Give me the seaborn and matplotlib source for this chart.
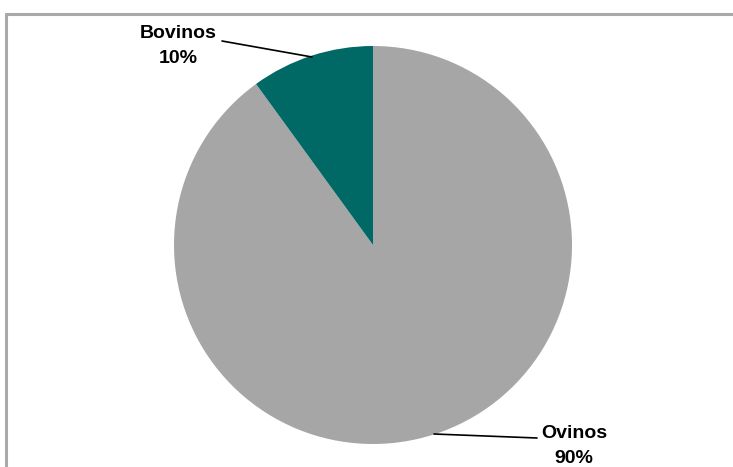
import matplotlib
matplotlib.use("Agg")
import matplotlib.pyplot as plt
import seaborn as sns

# ---------------- DATA ----------------
categories = ["Ovinos", "Bovinos"]
shares = [90, 10]
slice_colors = ["#a6a6a6", "#006865"]

sns.set_theme(style="white")
plt.rcParams['font.family'] = ['Liberation Sans', 'DejaVu Sans']

fig = plt.figure(figsize=(7.33, 4.67), dpi=100)
ax = fig.add_axes([0, 0, 1, 1])

# pie in pixel-like coordinates (y up)
ax.pie(shares, colors=slice_colors, startangle=90, counterclock=False,
       center=(373, 222), radius=199, wedgeprops={'linewidth': 0})
ax.set_xlim(0, 733)
ax.set_ylim(0, 467)
ax.set_aspect('auto')
ax.axis('off')

# frame lines (top and left only, like the original)
ax.plot([5.5, 733], [453.5, 453.5], color="#a9a9a9", lw=2.2, clip_on=False)
ax.plot([5.5, 5.5], [0, 453.5], color="#a9a9a9", lw=2.2, clip_on=False)

# labels with leader lines
labels = [f"{c}\n{s}%" for c, s in zip(categories, shares)]
ax.plot([434, 537], [467 - 434, 467 - 438], color="black", lw=1.2)
ax.text(574, 467 - 446, labels[0], ha="center", va="center", color="black",
        fontsize=14, fontweight="bold", linespacing=1.6)
ax.plot([222, 312], [467 - 41, 467 - 57], color="black", lw=1.2)
ax.text(178, 467 - 46, labels[1], ha="center", va="center", color="black",
        fontsize=14, fontweight="bold", linespacing=1.6)

fig.savefig("out.png", dpi=100)
